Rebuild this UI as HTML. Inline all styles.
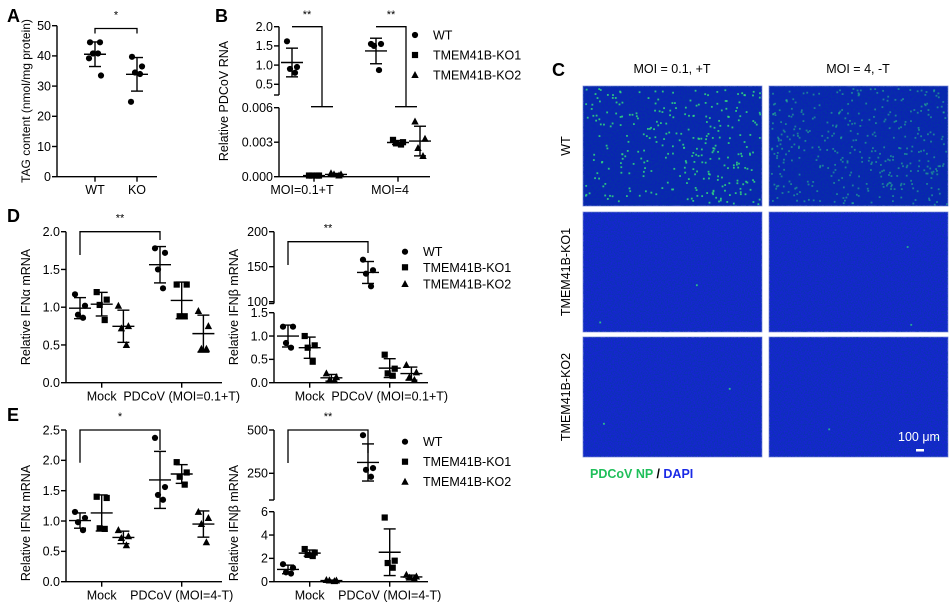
<!DOCTYPE html>
<html><head><meta charset="utf-8"><style>
html,body{margin:0;padding:0;background:#fff;}
svg{display:block;font-family:"Liberation Sans",Arial,sans-serif;}
</style></head><body>
<svg id="fig" width="952" height="604" viewBox="0 0 952 604" xmlns="http://www.w3.org/2000/svg">
<defs>
<filter id="noise" x="0" y="0" width="100%" height="100%">
<feTurbulence type="fractalNoise" baseFrequency="0.7" numOctaves="2" seed="3" result="t"/>
<feColorMatrix in="t" type="matrix" values="0 0 0 0 0  0 0 0 0 0.05  0 0 0 0 0.3  0 0 0 1.2 -0.3" result="n"/>
<feComposite in="n" in2="SourceGraphic" operator="in"/>
</filter>
</defs>
<g id="root"></g>
</svg>
<script>
// ---------- DATA ----------
const seriesNames = ["WT", "TMEM41B-KO1", "TMEM41B-KO2"];
// Panel A
const aCategories = ["WT", "KO"];
const aWT = [44.5, 44.5, 40.8, 40.8, 39.2, 33.5];
const aKO = [39.7, 36.5, 34.5, 34.0, 24.8];
const aTicks = [0, 10, 20, 30, 40, 50];
// Panel B
const bCategories = ["MOI=0.1+T", "MOI=4"];
const bWT = [[1.62, 0.95, 0.9, 0.8], [1.55, 1.55, 1.5, 0.87]];
const bKO1 = [[0.0001, 0.0001, 0.0001, 0.0001], [0.0032, 0.003, 0.0029, 0.0028]];
const bKO2 = [[0.0003, 0.0002, 0.0002, 0.0001], [0.0048, 0.0033, 0.0025, 0.0018]];
const bTicksLow = [0, 0.003, 0.006];
const bTickLabelsLow = ["0.000", "0.003", "0.006"];
const bTicksHigh = [0.5, 1.0, 1.5, 2.0];
const bTickLabelsHigh = ["0.5", "1.0", "1.5", "2.0"];
// Panel D left (IFNa)
const groupCategories = ["Mock", "PDCoV"];
const dAlphaWT = [[1.17, 1.02, 0.9, 0.86], [1.78, 1.72, 1.5, 1.25]];
const dAlphaKO1 = [[1.2, 1.1, 1.03, 0.83], [1.3, 1.3, 0.88, 0.88]];
const dAlphaKO2 = [[1.02, 0.75, 0.72, 0.5], [0.95, 0.75, 0.45, 0.45]];
const dAlphaTicks = [0, 0.5, 1.0, 1.5, 2.0];
// Panel D right (IFNb)
const dBetaWT = [[1.2, 1.2, 0.85, 0.75], [160, 145, 140, 122]];
const dBetaKO1 = [[1.0, 0.8, 0.75, 0.45], [0.6, 0.3, 0.2, 0.15]];
const dBetaKO2 = [[0.2, 0.12, 0.05, 0.05], [0.38, 0.22, 0.12, 0.06]];
const dBetaTicksLow = [0, 0.5, 1.0, 1.5];
const dBetaTicksHigh = [100, 150, 200];
// Panel E left
const eAlphaWT = [[1.15, 1.05, 0.98, 0.85], [2.37, 1.56, 1.43, 1.35]];
const eAlphaKO1 = [[1.4, 1.38, 0.88, 0.87], [1.97, 1.8, 1.73, 1.6]];
const eAlphaKO2 = [[0.85, 0.75, 0.72, 0.6], [1.15, 1.05, 0.95, 0.65]];
const eAlphaTicks = [0, 0.5, 1.0, 1.5, 2.0, 2.5];
// Panel E right
const eBetaWT = [[1.5, 1.2, 0.8, 0.7], [470, 280, 270, 230]];
const eBetaKO1 = [[2.8, 2.5, 2.3, 2.2], [5.5, 1.8, 1.6, 1.2]];
const eBetaKO2 = [[0.15, 0.1, 0.1, 0.05], [0.6, 0.45, 0.35, 0.25]];
const eBetaTicksLow = [0, 2, 4, 6];
const eBetaTicksHigh = [250, 500];

// ---------- helpers ----------
const NS = "http://www.w3.org/2000/svg";
const root = document.getElementById("root");
function el(tag, attrs, parent, text) {
  const e = document.createElementNS(NS, tag);
  for (const k in attrs) e.setAttribute(k, attrs[k]);
  if (text !== undefined) e.textContent = text;
  (parent || root).appendChild(e);
  return e;
}
function line(x1, y1, x2, y2, p, w) { return el("line", {x1, y1, x2, y2, stroke: "#000", "stroke-width": w || 1.4}, p); }
function mean(a) { return a.reduce((s, v) => s + v, 0) / a.length; }
function sd(a) { const m = mean(a); return Math.sqrt(a.reduce((s, v) => s + (v - m) * (v - m), 0) / (a.length - 1)); }
function makeScale(segs) {
  return function (v) {
    let s = segs[0];
    for (const g of segs) { if (v >= g.d0) s = g; }
    if (v <= segs[0].d1) s = segs[0];
    return s.p0 + (v - s.d0) / (s.d1 - s.d0) * (s.p1 - s.p0);
  };
}
const jitter = [-5, 5, -2, 3, -6, 6];
function marker(kind, x, y, p) {
  let m;
  if (kind === 0) m = el("circle", {cx: x, cy: y, r: 3.1, fill: "#000"}, p);
  else if (kind === 1) m = el("rect", {x: x - 3.1, y: y - 3.1, width: 6.2, height: 6.2, fill: "#000"}, p);
  else m = el("polygon", {points: `${x},${y - 4} ${x - 3.7},${y + 3} ${x + 3.7},${y + 3}`, fill: "#000"}, p);
  return m;
}
function plotGroup(vals, kind, cx, sy, p, nm) {
  const g = el("g", {}, p);
  
  
  vals.forEach((v, i) => {
    const m = marker(kind, cx + jitter[i % jitter.length], sy(v), g);
    
    
  });
  const m = mean(vals), s = sd(vals);
  line(cx, sy(m + s), cx, sy(Math.max(m - s, 0)), g, 1.4);
  line(cx - 6, sy(m + s), cx + 6, sy(m + s), g, 1.4);
  line(cx - 6, sy(Math.max(m - s, 0)), cx + 6, sy(Math.max(m - s, 0)), g, 1.4);
  line(cx - 11, sy(m), cx + 11, sy(m), g, 1.4);
}
function yAxis(ax, segsDraw, ticks, labels, sy, p) {
  const g = el("g", {}, p);
  
  
  segsDraw.forEach(s => { line(ax, s[0], ax, s[1], g, 1.4); if (s[2]) line(ax - 5, s[0], ax, s[0], g, 1.4); });
  ticks.forEach((t, i) => {
    const y = sy(t);
    line(ax - 5, y, ax, y, g, 1.4);
    const tl = el("text", {x: ax - 6, y: y + 4.3, "font-size": 12.5, "text-anchor": "end"}, g, labels ? labels[i] : String(t));
    
    
  });
}
function yTitle(x, y, txt, p, size) {
  const t = el("text", {x: 0, y: 0, "font-size": size || 12.5, "text-anchor": "middle", transform: `translate(${x},${y}) rotate(-90)`}, p, txt);
  
  
}
function text(x, y, s, size, anchor, p, nm, extra) {
  const t = el("text", Object.assign({x, y, "font-size": size, "text-anchor": anchor || "middle"}, extra || {}), p, s);
  
  
  return t;
}
function bracket(x1, x2, yTop, yL, yR, star, p) {
  const g = el("g", {}, p);
  
  
  el("polyline", {points: `${x1},${yL} ${x1},${yTop} ${x2},${yTop} ${x2},${yR}`, fill: "none", stroke: "#000", "stroke-width": 1.3}, g);
  text((x1 + x2) / 2, yTop - 10, star, 11, "middle", g, 'significance-stars');
}
function legend(x, ys, p) {
  const g = el("g", {}, p);
  
  
  seriesNames.forEach((n, i) => {
    const e = el("g", {}, g);
    
    
    marker(i, x, ys[i], e);
    text(x + 18, ys[i] + 4.5, n, 12.5, "start", e, 'legend-label');
  });
}
function panelLabel(x, y, s) { text(x, y, s, 18, "start", root, 'panel-label', {"font-weight": "bold"}); }

// ---------- Panel A ----------
(function () {
  const p = el("g", {});  
  const sy = makeScale([{d0: 0, d1: 50, p0: 176.7, p1: 25.7}]);
  const ax = 57;
  yAxis(ax, [[176.7, 25.7]], aTicks, null, sy, p);
  line(ax, 176.7, 157, 176.7, p, 1.4);
  const xs = [95, 137];
  xs.forEach((x, i) => { line(x, 176.7, x, 181.7, p, 1.4); text(x, 194, aCategories[i], 12.5, "middle", p, 'x-tick-label'); });
  plotGroup(aWT, 0, xs[0], sy, p, 'group-wt');
  plotGroup(aKO, 0, xs[1], sy, p, 'group-ko');
  bracket(xs[0], xs[1], 28.5, 33.5, 33.5, "*", p);
  yTitle(30, 101, "TAG content (nmol/mg protein)", p, 12);
})();
panelLabel(7, 22, "A");

// ---------- Panel B ----------
(function () {
  const p = el("g", {});  
  const sy = makeScale([{d0: 0, d1: 0.006, p0: 176.7, p1: 107.7}, {d0: 0.221, d1: 2.0, p0: 95, p1: 26.7}]);
  const ax = 279;
  yAxis(ax, [[176.7, 107.7], [95, 26.7, true]], bTicksLow, bTickLabelsLow, sy, p);
  bTicksHigh.forEach((t, i) => {
    const y = sy(t); line(ax - 5, y, ax, y, p, 1.4);
    text(ax - 6, y + 4.3, bTickLabelsHigh[i], 12.5, "end", p, 'y-tick-label');
  });
  line(ax, 176.7, 430, 176.7, p, 1.4);
  const centers = [314, 398];
  centers.forEach((c, i) => { line(c, 176.7, c, 181.7, p, 1.4); text(c - 12 + i * 4, 194, bCategories[i], 12.5, "middle", p, 'x-tick-label'); });
  const all = [bWT, bKO1, bKO2];
  centers.forEach((c, gi) => all.forEach((s, si) => plotGroup(s[gi], si, c + (si - 1) * 22, sy, p, 'group-' + seriesNames[si].toLowerCase())));
  centers.forEach(c => {
    const x1 = c - 22, x2 = c + 8;
    el("polyline", {points: `${x1},${sy(2.0)} ${x2},${sy(2.0)} ${x2},${sy(0.006) - 1}`, fill: "none", stroke: "#000", "stroke-width": 1.3}, p);
    line(x2 - 11, sy(0.006) - 1, x2 + 11, sy(0.006) - 1, p, 1.3);
    text((x1 + x2) / 2, 18, "**", 11, "middle", p, 'significance-stars');
  });
  yTitle(228, 101, "Relative PDCoV RNA", p);
  legend(415, [35, 55, 75], p);
})();
panelLabel(215, 22, "B");

// ---------- generic IFN panels ----------
function ifnPanel(name, ax, xEnd, segs, drawSegs, ticksLow, ticksHigh, data, title, xLabel, yBase, br, star, titleY) {
  const p = el("g", {});  
  const sy = makeScale(segs);
  yAxis(ax, drawSegs, ticksLow, ticksLow.map(t => segs[0].d1 <= 3 ? t.toFixed(1) : String(t)), sy, p);
  if (ticksHigh) ticksHigh.forEach(t => { const y = sy(t); line(ax - 5, y, ax, y, p, 1.4); text(ax - 6, y + 4.3, String(t), 12.5, "end", p, 'y-tick-label'); });
  line(ax, yBase, xEnd, yBase, p, 1.4);
  const centers = [ax + 35.7, ax + 115.7];
  centers.forEach(c => line(c, yBase, c, yBase + 5, p, 1.4));
  text(centers[0], yBase + 18, "Mock", 12.5, "middle", p, 'x-tick-label');
  text(centers[1], yBase + 18, xLabel, 12.5, "middle", p, 'x-tick-label');
  centers.forEach((c, gi) => data.forEach((s, si) => plotGroup(s[gi], si, c + (si - 1) * 21.7, sy, p, 'group-' + groupCategories[gi].toLowerCase() + '-' + seriesNames[si].toLowerCase())));
  bracket(centers[0] - 21.7, centers[1] - 21.7, br[0], br[1], br[2], star, p);
  yTitle(ax - 36, titleY, title, p);
  return p;
}
// D left
ifnPanel('panel-d-ifna', 66, 222, [{d0: 0, d1: 2, p0: 382.7, p1: 231.7}], [[382.7, 231.7]], dAlphaTicks, null,
  [dAlphaWT, dAlphaKO1, dAlphaKO2], "Relative IFNα mRNA", "PDCoV (MOI=0.1+T)", 382.7, [231.7, 255, 240], "**", 307);
// D right
const pdr = ifnPanel('panel-d-ifnb', 274, 428, [{d0: 0, d1: 1.5, p0: 382.7, p1: 312.7}, {d0: 100, d1: 200, p0: 301.7, p1: 231.7}],
  [[382.7, 312.7], [303.5, 231.7, true]], dBetaTicksLow, dBetaTicksHigh,
  [dBetaWT, dBetaKO1, dBetaKO2], "Relative IFNβ mRNA", "PDCoV (MOI=0.1+T)", 382.7, [241.7, 265, 253], "**", 307);
legend(405, [251.7, 267.3, 284], pdr);
panelLabel(7, 222, "D");
// E left
ifnPanel('panel-e-ifna', 66, 222, [{d0: 0, d1: 2.5, p0: 581.7, p1: 430}], [[581.7, 430]], eAlphaTicks, null,
  [eAlphaWT, eAlphaKO1, eAlphaKO2], "Relative IFNα mRNA", "PDCoV (MOI=4-T)", 581.7, [430, 462.7, 450], "*", 523);
// E right
const per = ifnPanel('panel-e-ifnb', 274, 428, [{d0: 0, d1: 6, p0: 581.7, p1: 511.7}, {d0: 95.8, d1: 500, p0: 500, p1: 430}],
  [[581.7, 511.7], [500, 430, true]], eBetaTicksLow, eBetaTicksHigh,
  [eBetaWT, eBetaKO1, eBetaKO2], "Relative IFNβ mRNA", "PDCoV (MOI=4-T)", 581.7, [430, 463, 453], "**", 523);
legend(405, [441.7, 461.7, 481.7], per);
panelLabel(7, 421, "E");

// ---------- Panel C (microscopy) ----------
(function () {
  const p = el("g", {});  
  const cols = [583, 769], rows = [86, 212, 337], w = 179, h = 120;
  let seed = 7;
  function rnd() { seed = (seed * 16807) % 2147483647; return seed / 2147483647; }
  const rowNames = ["WT", "TMEM41B-KO1", "TMEM41B-KO2"];
  rows.forEach((ry, ri) => cols.forEach((cx, ci) => {
    const g = el("g", {}, p);
    
    
    el("rect", {x: cx, y: ry, width: w, height: h, fill: ri === 0 ? "#0c1fb8" : "#1a22da", stroke: "#8a94e0", "stroke-width": 0.8}, g);
    el("rect", {x: cx, y: ry, width: w, height: h, fill: "#000", filter: "url(#noise)"}, g);
    const n = ri === 0 ? (ci === 0 ? 300 : 380) : 2;
    for (let i = 0; i < n; i++) {
      const x = cx + 2 + rnd() * (w - 4), y = ry + 2 + rnd() * (h - 4);
      el("rect", {x, y, width: 1.8, height: 1.8, fill: ci === 0 ? "#30d080" : "#28b890", opacity: ri === 0 ? (ci === 0 ? 0.9 : 0.6) : 0.9}, g);
    }
  }));
  text(672, 73, "MOI = 0.1, +T", 12.5, "middle", p, 'column-title');
  text(858, 73, "MOI = 4, -T", 12.5, "middle", p, 'column-title');
  rowNames.forEach((n, i) => {
    const t = el("text", {x: 0, y: 0, "font-size": 12.5, "text-anchor": "middle", transform: `translate(570,${rows[i] + 60}) rotate(-90)`}, p, n);
    
    
  });
  text(919, 441, "100 μm", 12.5, "middle", p, 'scale-bar-label', {fill: "#fff"});
  const sb = el("rect", {x: 916, y: 449, width: 8, height: 2.5, fill: "#fff"}, p);
   
  const cap = el("text", {x: 590, y: 478, "font-size": 12.5, "font-weight": "bold"}, p);
   
  el("tspan", {fill: "#1fbf5a"}, cap, "PDCoV NP");
  el("tspan", {fill: "#000"}, cap, " / ");
  el("tspan", {fill: "#1a2ae6"}, cap, "DAPI");
})();
panelLabel(552, 76, "C");
</script>
</body></html>
